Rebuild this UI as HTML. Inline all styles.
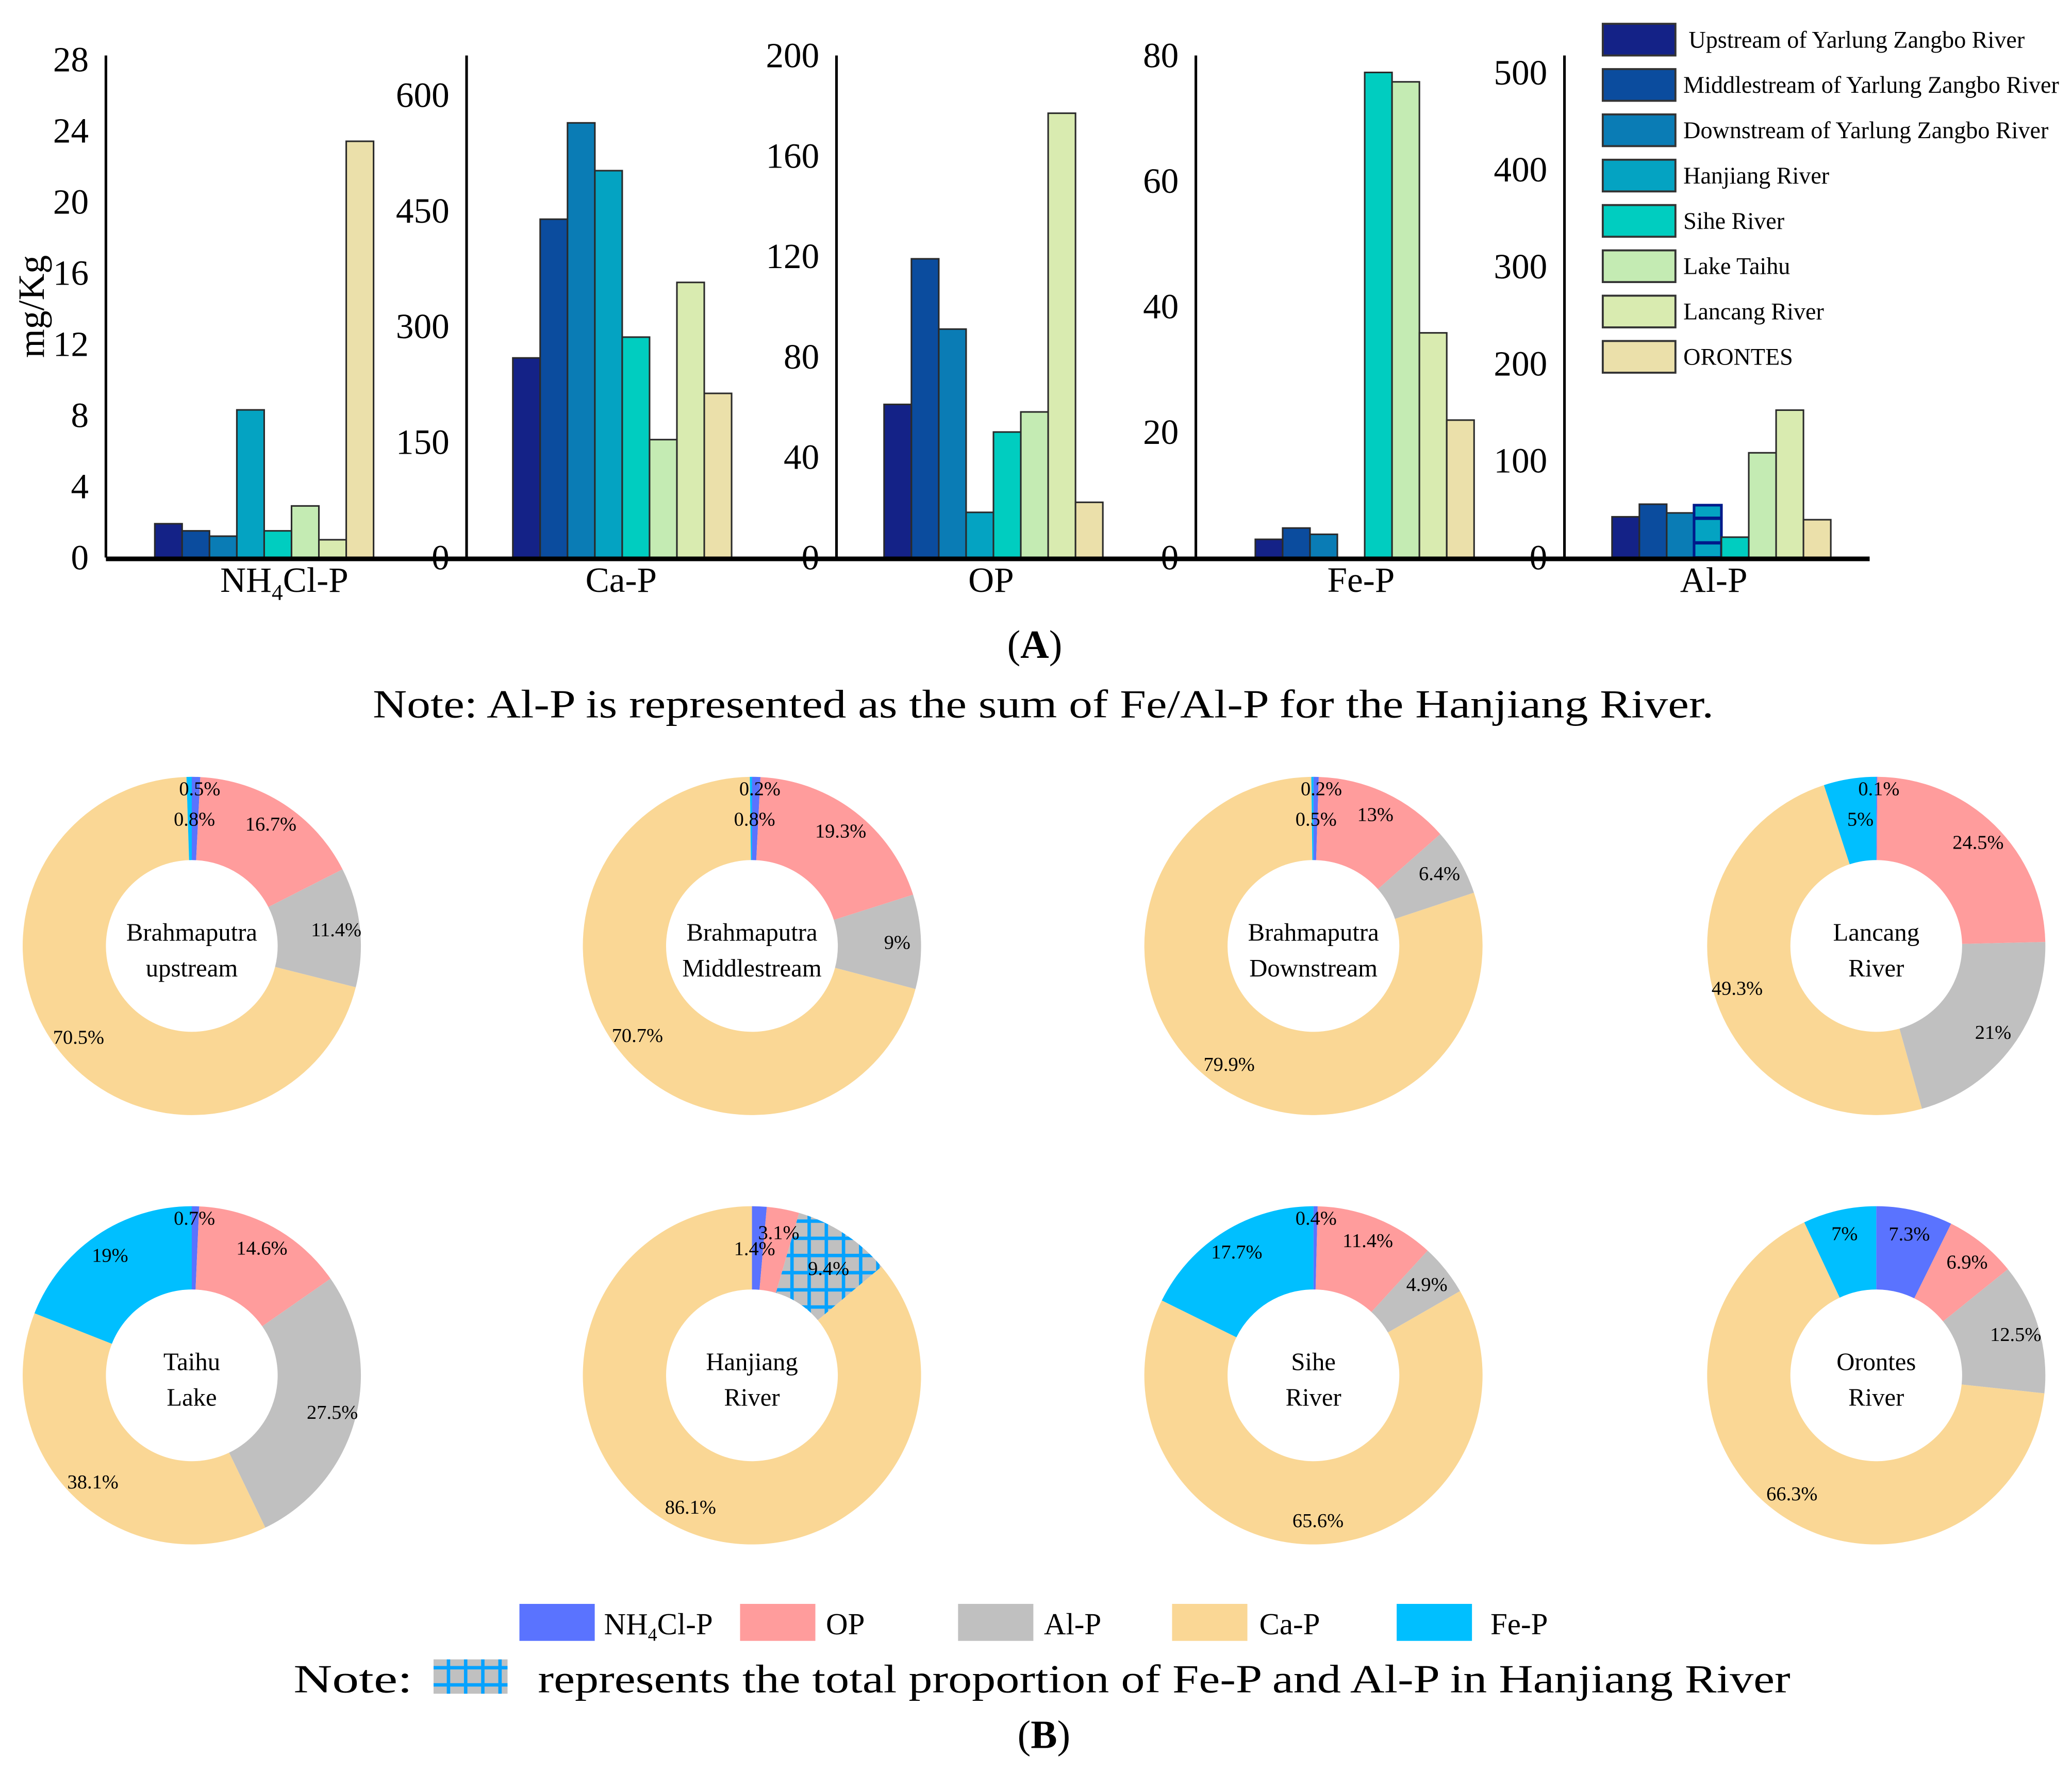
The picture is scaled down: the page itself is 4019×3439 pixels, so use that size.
<!DOCTYPE html>
<html><head><meta charset="utf-8"><style>
html,body{margin:0;padding:0;background:#fff;}
svg{display:block;}
text{font-family:"Liberation Serif",serif;fill:#000;}
</style></head><body>
<svg id="fig" xmlns="http://www.w3.org/2000/svg" width="4019" height="3439" viewBox="0 0 1568 1342">
<defs>
<pattern id="hatch" patternUnits="userSpaceOnUse" width="13" height="13" x="0" y="0">
<rect width="13" height="13" fill="#c0c0c0"/>
<rect x="0" y="0" width="2.6" height="13" fill="#05a2ff"/>
<rect x="0" y="0" width="13" height="2.6" fill="#05a2ff"/>
</pattern>
</defs>
<g id="barchart"></g>
<g id="barlegend"></g>
<text x="783" y="498" font-size="30" text-anchor="middle">(<tspan font-weight="bold">A</tspan>)</text>
<text x="282" y="543" font-size="30" textLength="1015" lengthAdjust="spacingAndGlyphs">Note: Al-P is represented as the sum of Fe/Al-P for the Hanjiang River.</text>
<g id="donuts"></g>
<g id="donutlabels"></g>
<g id="donutlegend"></g>
<text x="222" y="1281" font-size="30" textLength="90" lengthAdjust="spacingAndGlyphs">Note:</text>
<rect x="328" y="1256" width="56" height="26" fill="url(#hatch)"/>
<text x="407" y="1281" font-size="30" textLength="948" lengthAdjust="spacingAndGlyphs">represents the total proportion of Fe-P and Al-P in Hanjiang River</text>
<text x="790" y="1323" font-size="30" text-anchor="middle">(<tspan font-weight="bold">B</tspan>)</text>
</svg>
<script>
// ---- Bar chart data ----
const sites = ["Upstream of Yarlung Zangbo River","Middlestream of Yarlung Zangbo River","Downstream of Yarlung Zangbo River","Hanjiang River","Sihe River","Lake Taihu","Lancang River","ORONTES"];
const siteColors = ["#142287","#0b4c9e","#0a7cb5","#04a3c2","#00cdc0","#c4ebb3","#d9ebb0","#ebe0aa"];
const fractions = ["NH4Cl-P","Ca-P","OP","Fe-P","Al-P"];
const nh4Values = [1.9,1.5,1.2,8.3,1.5,2.9,1.0,23.4];
const caValues = [259,439,564,502,286,153,357,213];
const opValues = [61,119,91,18,50,58,177,22];
const feValues = [2.9,4.7,3.7,0,77.3,75.8,35.8,21.9];
const alValues = [42,55,46,54,21,108,152,39];
const nh4Ticks = [0,4,8,12,16,20,24,28];
const caTicks = [0,150,300,450,600];
const opTicks = [0,40,80,120,160,200];
const feTicks = [0,20,40,60,80];
const alTicks = [0,100,200,300,400,500];

// ---- Donut data (order: NH4Cl-P, OP, Al-P, Ca-P, Fe-P) ----
const compNames = ["NH4Cl-P","OP","Al-P","Ca-P","Fe-P"];
const compColors = ["#5a73ff","#ff9c9c","#c0c0c0","#fad795","#00bfff"];
const donutTitles = [["Brahmaputra","upstream"],["Brahmaputra","Middlestream"],["Brahmaputra","Downstream"],["Lancang","River"],["Taihu","Lake"],["Hanjiang","River"],["Sihe","River"],["Orontes","River"]];
const upstreamPct = [0.8,16.7,11.4,70.5,0.5];
const middlePct = [0.8,19.3,9,70.7,0.2];
const downPct = [0.5,13,6.4,79.9,0.2];
const lancangPct = [0.1,24.5,21,49.3,5];
const taihuPct = [0.7,14.6,27.5,38.1,19];
const hanjiangPct = [1.4,3.1,9.4,86.1,0];
const sihePct = [0.4,11.4,4.9,65.6,17.7];
const orontesPct = [7.3,6.9,12.5,66.3,7];

const NS="http://www.w3.org/2000/svg";
function mk(tag, attrs, parent){const e=document.createElementNS(NS,tag);for(const k in attrs)e.setAttribute(k,attrs[k]);parent.appendChild(e);return e;}

// ---- Bar chart drawing ----
const bc=document.getElementById('barchart');
const baseY=422;
const panels=[
 {vals:nh4Values,ticks:nh4Ticks,max:28,topY:45,axisX:80,barX:117},
 {vals:caValues,ticks:caTicks,max:600,topY:72,axisX:353,barX:388},
 {vals:opValues,ticks:opTicks,max:200,topY:42,axisX:633,barX:669},
 {vals:feValues,ticks:feTicks,max:80,topY:42,axisX:905,barX:950},
 {vals:alValues,ticks:alTicks,max:500,topY:55,axisX:1184,barX:1220}
];
const bw=20.7;
panels.forEach((p,pi)=>{
  const y=v=>baseY-(v/p.max)*(baseY-p.topY);
  const ax=mk('line',{x1:p.axisX,y1:42,x2:p.axisX,y2:baseY,stroke:'#000','stroke-width':2},bc);
  
  
  p.ticks.forEach(t=>{
    const tl=mk('text',{x:p.axisX-13,y:y(t)+9,'font-size':27,'text-anchor':'end'},bc);
    tl.textContent=t;
    
    
  });
  p.vals.forEach((v,i)=>{
    if(v<=0)return;
    const r=mk('rect',{x:p.barX+i*bw,y:y(v),width:bw,height:baseY-y(v),fill:siteColors[i],stroke:'#2a2a2a','stroke-width':1.2},bc);
    
    
    if(pi===4&&i===3){
      r.setAttribute('stroke','#001a8a');r.setAttribute('stroke-width',2);
      [0.28,0.75].forEach(f=>{const l=mk('line',{x1:p.barX+i*bw,x2:p.barX+(i+1)*bw,y1:baseY-f*(baseY-y(v)),y2:baseY-f*(baseY-y(v)),stroke:'#001a8a','stroke-width':2.5},bc);
        
        });
    }
  });
});
const bl=mk('line',{x1:80,y1:baseY+1,x2:1415,y2:baseY+1,stroke:'#000','stroke-width':3.5},bc);


const catX=[215,470,750,1030,1297];
fractions.forEach((f,i)=>{
  const t=mk('text',{x:catX[i],y:448,'font-size':27,'text-anchor':'middle'},bc);
  t.setAttribute('font-family','"Liberation Sans",sans-serif');
  if(i===0){t.innerHTML='NH<tspan font-size="17" dy="6">4</tspan><tspan dy="-6">Cl-P</tspan>';}
  else t.textContent=f;
  
  
});
const yt=mk('text',{x:33,y:232,'font-size':28,'text-anchor':'middle',transform:'rotate(-90 33 232)'},bc);
yt.textContent='mg/Kg';



// legend
const lg=document.getElementById('barlegend');
sites.forEach((s,i)=>{
  const yy=18+i*34.3;
  const r=mk('rect',{x:1213,y:yy,width:55,height:24,fill:siteColors[i],stroke:'#333','stroke-width':1.5},lg);
  
  
  const t=mk('text',{x:i===0?1278:1274,y:yy+18,'font-size':18},lg);
  t.textContent=s;
  
  
});

// ---- Donuts ----
const dg=document.getElementById('donuts');
const dlab=document.getElementById('donutlabels');
const allPct=[upstreamPct,middlePct,downPct,lancangPct,taihuPct,hanjiangPct,sihePct,orontesPct];
const centers=[[145,716],[569,716],[994,716],[1420,716],[145,1041],[569,1041],[994,1041],[1420,1041]];
const R=128,Ri=65;
function pt(cx,cy,r,a){return [cx+r*Math.sin(a),cy-r*Math.cos(a)];}
allPct.forEach((pcts,di)=>{
  const [cx,cy]=centers[di];
  const tot=pcts.reduce((a,b)=>a+b,0);
  let acc=0;
  const hasSmallTop=pcts[4]>0&&pcts[4]<2||pcts[1]<5;
  pcts.forEach((v,k)=>{
    if(v<=0)return;
    const a0=acc/tot*2*Math.PI, a1=(acc+v)/tot*2*Math.PI; acc+=v;
    const p0=pt(cx,cy,R,a0),p1=pt(cx,cy,R,a1),q1=pt(cx,cy,Ri,a1),q0=pt(cx,cy,Ri,a0);
    const lg2=(a1-a0)>Math.PI?1:0;
    const d=`M${p0[0]},${p0[1]}A${R},${R} 0 ${lg2} 1 ${p1[0]},${p1[1]}L${q1[0]},${q1[1]}A${Ri},${Ri} 0 ${lg2} 0 ${q0[0]},${q0[1]}Z`;
    const fill=(di===5&&k===2)?'url(#hatch)':compColors[k];
    const s=mk('path',{d:d,fill:fill},dg);
    
    
    let lx,ly;
    const am=(a0+a1)/2;
    if(k===0&&v<2){lx=cx+2;ly=hasSmallTop?cy-96:cy-119;}
    else if(k===4&&v<2){lx=cx+6;ly=cy-119;}
    else{const p=pt(cx,cy,110,am);lx=p[0];ly=p[1];}
    if(di===5&&k===2){lx=cx+58;ly=cy-81;}
    if(di===3&&k===4){lx=cx-12;ly=cy-96;}
    const t=mk('text',{x:lx,y:ly+5,'font-size':15,'text-anchor':'middle'},dlab);
    t.textContent=v+'%';
    
    
  });
  donutTitles[di].forEach((ln,j)=>{
    const t=mk('text',{x:cx,y:cy-4+j*27,'font-size':19,'text-anchor':'middle'},dlab);
    t.textContent=ln;
    
    
  });
});

// donut legend
const dl=document.getElementById('donutlegend');
const lgX=[393,560,725,887,1057];
const lgTX=[457,625,790,953,1128];
compNames.forEach((n,i)=>{
  const r=mk('rect',{x:lgX[i],y:1214,width:57,height:28,fill:compColors[i]},dl);
  
  
  const t=mk('text',{x:lgTX[i],y:1237,'font-size':23},dl);
  if(i===0)t.innerHTML='NH<tspan font-size="14" dy="5">4</tspan><tspan dy="-5">Cl-P</tspan>';
  else t.textContent=n;
  
  
});
</script>
</body></html>
